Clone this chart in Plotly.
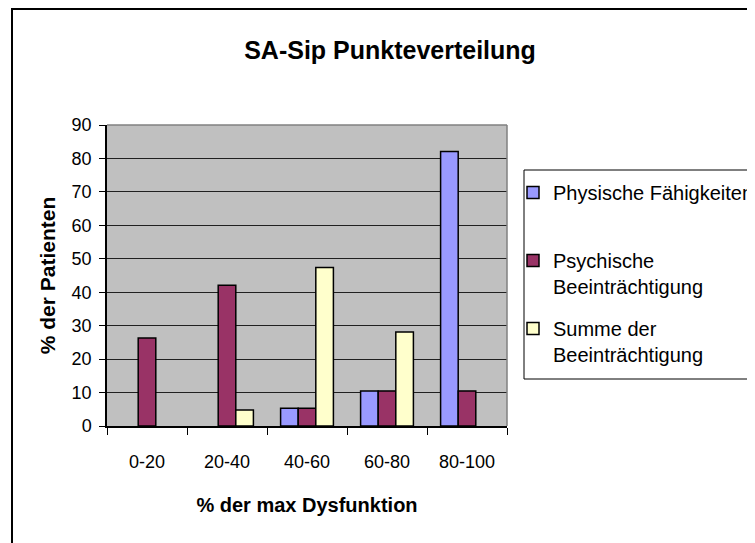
import plotly.graph_objects as go

# ------------------------------------------
# Data
# ------------------------------------------

categories = ["0-20", "20-40", "40-60", "60-80", "80-100"]

# None = no bar drawn (empty cell in the original sheet)
physisch = [None, None, 5.3, 10.5, 82.1]
psychisch = [26.3, 42.1, 5.3, 10.5, 10.5]
summe = [None, 4.8, 47.4, 28.1, None]

series_names = [
    "Physische Fähigkeiten<br> ",
    "Psychische<br>Beeinträchtigung",
    "Summe der<br>Beeinträchtigung",
]
series_colors = ["#9999FF", "#993366", "#FFFFCC"]

y_ticks = [0, 10, 20, 30, 40, 50, 60, 70, 80, 90]

FONT = "Liberation Sans, Arial, sans-serif"

# page puts the figure 8px in from the top-left corner
OFF = 8

# plot area in screen pixels
L, R, T, B = 107 - OFF, 507 - OFF, 125 - OFF, 426 - OFF
PW, PH = R - L, B - T


def px_x(p):
    return (p - OFF - L) / PW


def px_y(p):
    return (B - (p - OFF)) / PH


# ------------------------------------------
# Chart
# ------------------------------------------

fig = go.Figure()

for i, (name, values, color) in enumerate(zip(series_names, [physisch, psychisch, summe], series_colors)):
    fig.add_trace(
        go.Bar(
            x=categories,
            y=values,
            name=name,
            legendgroup=str(i),
            marker=dict(color=color, line=dict(color="black", width=1.5)),
        )
    )

fig.update_layout(
    width=755,
    height=543,
    margin=dict(l=L, r=755 - R, t=T, b=543 - B, autoexpand=False),
    paper_bgcolor="white",
    plot_bgcolor="#C0C0C0",
    barmode="group",
    bargap=0.34,
    bargroupgap=0,
    font=dict(family=FONT, color="black"),
    title=dict(
        text="<b>SA-Sip Punkteverteilung</b>",
        font=dict(size=25, family=FONT, color="black"),
        x=0.506,
        xanchor="center",
        y=1 - 42 / 543,
        yanchor="middle",
    ),
    xaxis=dict(
        title=dict(text="<b>% der max Dysfunktion</b>", font=dict(size=20), standoff=27),
        tickfont=dict(size=18),
        showline=True,
        linecolor="black",
        linewidth=1.5,
        ticks="outside",
        tickson="boundaries",
        ticklen=7,
        tickcolor="black",
        ticklabelstandoff=19,
        showgrid=False,
    ),
    yaxis=dict(
        title=dict(text="<b>% der Patienten</b>", font=dict(size=21), standoff=10),
        tickfont=dict(size=18),
        range=[0, 90],
        tickvals=y_ticks,
        showline=True,
        linecolor="black",
        linewidth=1.5,
        ticks="outside",
        ticklen=6,
        tickcolor="black",
        ticklabelstandoff=4,
        gridcolor="#202020",
        gridwidth=1,
        zeroline=False,
    ),
    legend=dict(
        x=px_x(513),
        y=px_y(173),
        xanchor="left",
        yanchor="top",
        borderwidth=0,
        bgcolor="rgba(0,0,0,0)",
        font=dict(size=20),
        traceorder="grouped",
        tracegroupgap=13,
        valign="top",
    ),
)

# grey top / right border of plot area
fig.add_shape(type="line", xref="x domain", yref="y domain", x0=0, x1=1, y0=1, y1=1,
              line=dict(color="#808080", width=1.5), layer="above")
fig.add_shape(type="line", xref="x domain", yref="y domain", x0=1, x1=1, y0=0, y1=1,
              line=dict(color="#808080", width=1.5), layer="above")

# legend box
fig.add_shape(type="rect", xref="paper", yref="paper",
              x0=px_x(524), x1=px_x(780), y0=px_y(379), y1=px_y(170),
              line=dict(color="black", width=1), fillcolor="white", layer="below")

# outer chart frame
fig.add_shape(type="rect", xref="paper", yref="paper",
              x0=px_x(12), x1=px_x(790), y0=px_y(570), y1=px_y(9),
              line=dict(color="black", width=2), fillcolor="rgba(0,0,0,0)", layer="below")

fig.write_html("out.html")
